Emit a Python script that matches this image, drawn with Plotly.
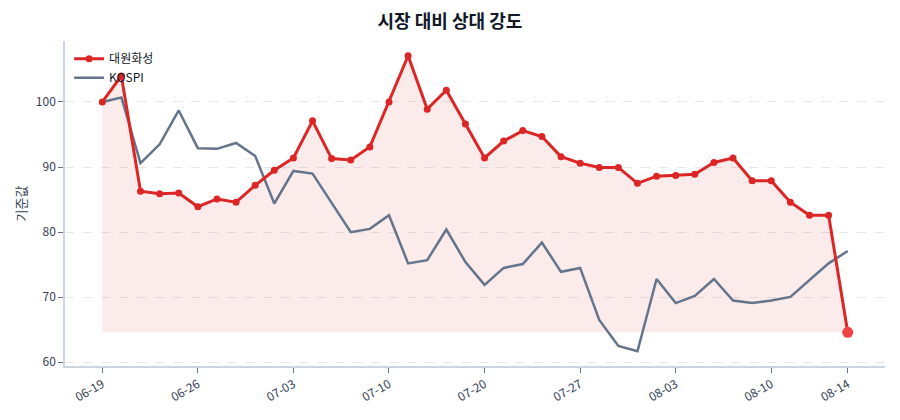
import plotly.graph_objects as go

# Data
dates = [
    "06-19", "06-20", "06-23", "06-24", "06-25", "06-26", "06-27", "06-30",
    "07-01", "07-02", "07-03", "07-04", "07-07", "07-08", "07-09", "07-10",
    "07-11", "07-14", "07-15", "07-17", "07-20", "07-21", "07-22", "07-23",
    "07-24", "07-27", "07-28", "07-29", "07-30", "07-31", "08-03", "08-04",
    "08-05", "08-06", "08-07", "08-10", "08-11", "08-12", "08-13", "08-14",
]
daewon = [
    100.0, 104.0, 86.3, 85.9, 86.0, 83.9, 85.1, 84.6, 87.2, 89.5,
    91.4, 97.1, 91.3, 91.1, 93.1, 100.0, 107.1, 98.9, 101.8, 96.6,
    91.4, 94.0, 95.6, 94.7, 91.6, 90.6, 89.95, 89.95, 87.5, 88.6,
    88.7, 88.9, 90.7, 91.4, 87.9, 87.9, 84.6, 82.6, 82.6, 64.6,
]
kospi = [
    100.0, 100.7, 90.6, 93.5, 98.7, 92.9, 92.8, 93.7, 91.7, 84.4,
    89.4, 89.0, 84.5, 80.0, 80.5, 82.6, 75.2, 75.7, 80.4, 75.4,
    71.9, 74.5, 75.1, 78.4, 73.9, 74.5, 66.5, 62.5, 61.7, 72.8,
    69.1, 70.2, 72.8, 69.5, 69.1, 69.5, 70.05, 72.6, 75.2, 77.1,
]
tick_dates = ["06-19", "06-26", "07-03", "07-10", "07-20", "07-27", "08-03", "08-10", "08-14"]
y_ticks = [60, 70, 80, 90, 100]

RED = "#dc2626"
SLATE = "#64748b"
TEXT = "#334155"
FONT = "Noto Sans CJK KR"

base = min(daewon)

fig = go.Figure()

# baseline for the shaded area
fig.add_trace(go.Scatter(
    x=dates, y=[base] * len(dates), mode="lines",
    line=dict(width=0), hoverinfo="skip", showlegend=False
))
# shaded area between the stock line and its minimum
fig.add_trace(go.Scatter(
    x=dates, y=daewon, mode="lines", fill="tonexty",
    fillcolor="rgba(220,38,38,0.09)", line=dict(width=0),
    hoverinfo="skip", showlegend=False
))

# KOSPI
fig.add_trace(go.Scatter(
    x=dates, y=kospi, mode="lines", name="KOSPI",
    line=dict(color=SLATE, width=2.5), legendrank=2
))

# 대원화성
fig.add_trace(go.Scatter(
    x=dates, y=daewon, mode="lines+markers", name="대원화성",
    line=dict(color=RED, width=3), marker=dict(size=7, color=RED),
    legendrank=1
))

# last point highlight
fig.add_trace(go.Scatter(
    x=[dates[-1]], y=[daewon[-1]], mode="markers",
    marker=dict(size=11, color="#ef4444"), showlegend=False, hoverinfo="skip"
))

# the page body has an 8px margin, so the margins are offset by it
fig.update_layout(
    width=900, height=420,
    paper_bgcolor="white", plot_bgcolor="white",
    font=dict(family=FONT, size=12, color=TEXT),
    title=dict(text="<b>시장 대비 상대 강도</b>", x=0.491, xanchor="center",
               y=0.967, yanchor="middle", font=dict(size=18, color="#111827"),
               automargin=False),
    margin=dict(l=57, r=23, t=33, b=62, autoexpand=False),
    legend=dict(x=0.005, y=0.99, xanchor="left", yanchor="top",
                traceorder="normal",
                bgcolor="rgba(255,255,255,0)", font=dict(size=12, color="#111827"),
                itemwidth=30, tracegroupgap=0),
    xaxis=dict(
        type="category", range=[-1.95, 40.95], automargin=False,
        tickmode="array", tickvals=tick_dates, ticktext=tick_dates,
        tickangle=-30, tickfont=dict(size=12, color=TEXT),
        showgrid=False, zeroline=False,
        showline=True, linecolor="#cbd5e1", linewidth=1.5,
        ticks="outside", ticklen=5, tickcolor="#64748b", tickwidth=1,
    ),
    yaxis=dict(
        range=[59.43, 109.37], tickvals=y_ticks, automargin=False,
        tickfont=dict(size=12, color=TEXT),
        title=dict(text="기준값", font=dict(size=13, color=TEXT), standoff=6),
        showgrid=True, gridcolor="#e5e7eb", griddash="dash", gridwidth=1,
        zeroline=False,
        showline=True, linecolor="#cbd5e1", linewidth=1.5,
        ticks="outside", ticklen=5, tickcolor="#64748b", tickwidth=1,
    ),
)

fig.write_html("out.html")
